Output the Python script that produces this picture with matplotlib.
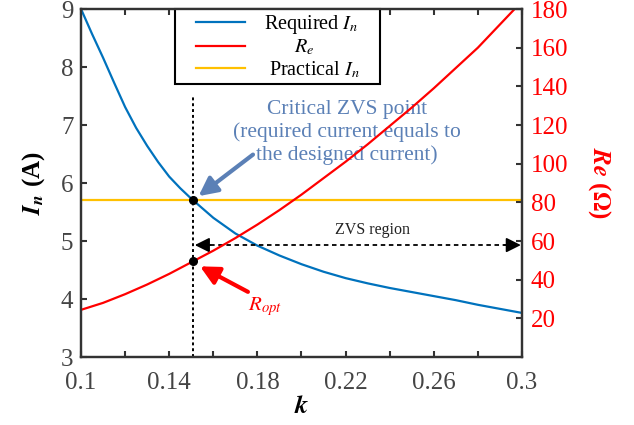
import matplotlib
matplotlib.use("Agg")
import matplotlib.pyplot as plt
from matplotlib.legend_handler import HandlerLine2D
from matplotlib.lines import Line2D
import numpy as np

plt.rcParams["font.family"] = ["Liberation Serif", "DejaVu Serif"]
plt.rcParams["mathtext.fontset"] = "stix"

# %%
# values

k_in = [0.100, 0.105, 0.110, 0.115, 0.120, 0.125, 0.130, 0.135, 0.140, 0.145,
        0.150, 0.160, 0.170, 0.180, 0.190, 0.200, 0.210, 0.220, 0.230, 0.240,
        0.250, 0.260, 0.270, 0.280, 0.290, 0.300]
required_in = [9.00, 8.57, 8.16, 7.73, 7.31, 6.95, 6.64, 6.36, 6.11, 5.91,
               5.73, 5.40, 5.13, 4.92, 4.75, 4.60, 4.47, 4.36, 4.27, 4.19,
               4.12, 4.05, 3.98, 3.90, 3.83, 3.76]

k_re = [0.10, 0.11, 0.12, 0.13, 0.14, 0.15, 0.16, 0.17, 0.18, 0.19, 0.20,
        0.21, 0.22, 0.23, 0.24, 0.25, 0.26, 0.27, 0.28, 0.29, 0.30]
re_ohm = [24.4, 28.0, 32.5, 37.5, 43.0, 49.0, 55.0, 61.5, 68.5, 76.0, 84.0,
          92.5, 101.0, 110.0, 119.5, 129.0, 139.0, 149.5, 160.0, 172.0, 184.0]
practical_in = 5.7

k_crit = 0.1508
r_opt = 49.4
zvs_level = 4.93
xticks = [0.1, 0.14, 0.18, 0.22, 0.26, 0.3]
xticklabels = ["0.1", "0.14", "0.18", "0.22", "0.26", "0.3"]
yticks_left = [3, 4, 5, 6, 7, 8, 9]
yticks_right = [20, 40, 60, 80, 100, 120, 140, 160, 180]

blue = "#0072BD"
red = "#FF0000"
gold = "#FFC000"
note_blue = "#5B80B6"
frame = "#333333"

# %%
# figure

fig = plt.figure(figsize=(6.34, 4.25), dpi=100)
ax = fig.add_axes([0.1278, 0.16, 0.6955, 0.8188])
ax2 = ax.twinx()

style = {"linestyle": "-", "linewidth": 1.6}
(lh1,) = ax.plot(k_in, required_in, color=blue, label="Required $I_n$", **style)
(lh3,) = ax.plot([k_in[0], k_in[-1]], [practical_in, practical_in], color=gold,
                 label=" Practical $I_n$", **style)
(lh2,) = ax2.plot(k_re, re_ohm, color=red, label="      $R_e$", **style)

ax.set_xlim(0.1, 0.3)
ax.set_ylim(3, 9)
ax2.set_ylim(0, 180)

# critical point markers
ax.plot([k_crit, k_crit], [3, 7.52], color="black", linestyle=(0, (1.5, 1.5)),
        linewidth=1.4)
ax.plot(k_crit, practical_in, "o", color="black", markersize=5.5, zorder=5)
ax2.plot(k_crit, r_opt, "o", color="black", markersize=5.5, zorder=5)

# ZVS region arrow
ax.plot([k_crit + 0.004, 0.296], [zvs_level, zvs_level], color="black",
        linestyle=(0, (2.5, 2)), linewidth=1.3)
for x0, x1 in [(k_crit + 0.008, k_crit + 0.0008), (0.292, 0.2995)]:
    ax.annotate("", xy=(x1, zvs_level), xytext=(x0, zvs_level),
                arrowprops=dict(arrowstyle="-|>", color="black", lw=1.3,
                                mutation_scale=22, shrinkA=0, shrinkB=0))
ax.text(0.2324, 5.19, "ZVS region", ha="center", va="center", fontsize=11.5,
        color="#222222")

# annotations
ax.annotate("", xy=(k_crit + 0.001, practical_in + 0.03), xytext=(0.178, 6.49),
            arrowprops=dict(arrowstyle="-|>", color=note_blue, lw=3,
                            mutation_scale=28, shrinkA=0, shrinkB=3))
ax.text(0.2206, 6.87, "Critical ZVS point\n(required current equals to\nthe designed current)",
        ha="center", va="center", fontsize=15.5, color=note_blue, linespacing=1.25)

ax2.annotate("", xy=(k_crit + 0.0015, r_opt - 1.5), xytext=(0.1757, 33.7),
             arrowprops=dict(arrowstyle="-|>", color=red, lw=3,
                             mutation_scale=28, shrinkA=0, shrinkB=3))
ax2.text(0.1757, 26, "$R_{opt}$", ha="left", va="center", fontsize=15, color=red)

# ticks
ax.set_xticks(xticks)
ax.set_xticklabels(xticklabels)
ax.set_xticks(np.arange(0.1, 0.3001, 0.02), minor=True)
ax.set_yticks(yticks_left)
ax2.set_yticks(yticks_right)

ax.tick_params(axis="x", which="both", direction="in", top=True, length=4.5,
               width=1.5, colors=frame, labelsize=18, pad=10.5, labelcolor="#444444")
ax.tick_params(axis="y", direction="in", length=4.5, width=1.5, colors=frame,
               labelsize=18, pad=5.5, labelcolor="#444444")
ax2.tick_params(axis="y", direction="in", length=4.5, width=1.5, colors=frame,
                labelsize=18, pad=6.5, labelcolor=red)

for a in (ax, ax2):
    for sp in a.spines.values():
        sp.set_linewidth(1.6)
        sp.set_color(frame)

ax.set_xlabel("$\\mathbfit{k}$", fontsize=19, labelpad=2)
ax.set_ylabel("$\\mathbfit{I_n}$ (A)", fontsize=18, fontweight="bold", labelpad=10)
ax2.set_ylabel("$\\mathbfit{Re}$ ($\\mathbf{\\Omega}$)", fontsize=18, fontweight="bold",
               color=red, rotation=270, labelpad=32)

# legend, handles inset from the frame like the original
leg = ax.legend(handles=[lh1, lh2, lh3], loc="upper left",
                bbox_to_anchor=(0.213, 0.0, 0.465, 1.0), mode="expand",
                borderaxespad=0, fontsize=14.5,
                frameon=True, fancybox=False, framealpha=1, edgecolor="black",
                handlelength=3.3, handletextpad=0.9, labelspacing=0.1,
                borderpad=0.2, handler_map={Line2D: HandlerLine2D(xpad=0.85)})
leg.get_frame().set_linewidth(1.5)
leg.set_zorder(10)

fig.savefig("out.png", dpi=100)
